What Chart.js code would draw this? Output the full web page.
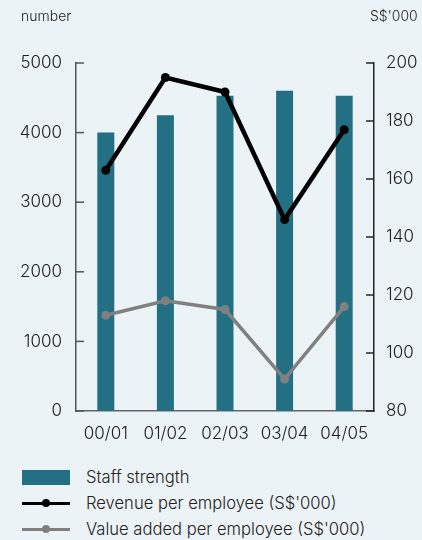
<!DOCTYPE html>
<html>
<head>
<meta charset="utf-8">
<script src="https://cdn.jsdelivr.net/npm/chart.js@4"></script>
<style>
  html, body { margin: 0; padding: 0; background: #ecf3f6; }
  #wrap { position: relative; width: 422px; height: 540px; background: #ecf3f6; font-family: Inter, sans-serif; font-weight: 300; color: #222; }
  #chart { position: absolute; left: 0; top: 0; }
  .ttl { position: absolute; top: 7px; font-size: 14px; }
  #legend { position: absolute; left: 22px; top: 464px; }
  .row { display: flex; align-items: center; height: 26px; font-size: 16.6px; }
  .sw { width: 48px; height: 15px; margin-right: 16px; position: relative; flex: none; }
</style>
</head>
<body>
<div id="wrap">
  <canvas id="chart" width="422" height="450"></canvas>
  <div class="ttl" style="left:21px">number</div>
  <div class="ttl" style="left:370px">S$'000</div>
  <div id="legend"></div>
</div>
<script>
const years = ['00/01', '01/02', '02/03', '03/04', '04/05'];
const staff = [4000, 4250, 4530, 4600, 4530];
const revenue = [163, 195, 190, 146, 177];
const valueAdded = [113, 118, 115, 91, 116];
const leftTicks = [0, 1000, 2000, 3000, 4000, 5000];
const rightTicks = [80, 100, 120, 140, 160, 180, 200];

const barColor = '#236f84';
const axisFont = { family: 'Inter', size: 17, weight: 300 };

// short inward tick marks on both value axes
const innerTicks = {
  id: 'innerTicks',
  afterDraw(chart) {
    const ctx = chart.ctx;
    const l = chart.scales.y, r = chart.scales.y1;
    ctx.save();
    ctx.lineWidth = 1.5;
    ctx.strokeStyle = '#555';
    leftTicks.forEach(v => {
      const y = l.getPixelForValue(v);
      ctx.beginPath(); ctx.moveTo(l.right, y); ctx.lineTo(l.right + 8, y); ctx.stroke();
    });
    ctx.strokeStyle = '#222';
    rightTicks.forEach(v => {
      const y = r.getPixelForValue(v);
      ctx.beginPath(); ctx.moveTo(r.left, y); ctx.lineTo(r.left - 8, y); ctx.stroke();
    });
    ctx.restore();
  }
};

const ctx = document.getElementById('chart').getContext('2d');
new Chart(ctx, {
  type: 'bar',
  data: {
    labels: years,
    datasets: [
      {
        type: 'line', label: 'Revenue per employee (S$\'000)', data: revenue, yAxisID: 'y1',
        borderColor: '#000', backgroundColor: '#000', borderWidth: 4.5,
        pointRadius: 4.5, pointBackgroundColor: '#000', pointBorderWidth: 0, order: 1
      },
      {
        type: 'line', label: 'Value added per employee (S$\'000)', data: valueAdded, yAxisID: 'y1',
        borderColor: '#808080', backgroundColor: '#808080', borderWidth: 3.5,
        pointRadius: 4.5, pointBackgroundColor: '#808080', pointBorderWidth: 0, order: 2
      },
      {
        label: 'Staff strength', data: staff, yAxisID: 'y',
        backgroundColor: barColor, barPercentage: 0.285, categoryPercentage: 1, order: 3
      }
    ]
  },
  options: {
    responsive: false,
    animation: false,
    layout: { padding: { top: 63, left: 0, right: 0, bottom: 0 } },
    plugins: { legend: { display: false }, tooltip: { enabled: false } },
    scales: {
      x: {
        grid: { display: false, drawTicks: false },
        border: { display: true, color: '#666', width: 1.5 },
        ticks: { color: '#222', font: axisFont, padding: 13, maxRotation: 0 },
        afterFit(s) { s.height = 39; }
      },
      y: {
        position: 'left', min: 0, max: 5000,
        afterBuildTicks(s) { s.ticks = leftTicks.map(v => ({ value: v })); },
        grid: { display: false, drawTicks: false },
        border: { display: true, color: '#555', width: 1.5 },
        ticks: { color: '#222', font: axisFont, padding: 14, callback: v => String(v) },
        afterFit(s) { s.width = 76; }
      },
      y1: {
        position: 'right', min: 80, max: 200,
        afterBuildTicks(s) { s.ticks = rightTicks.map(v => ({ value: v })); },
        grid: { display: false, drawTicks: false },
        border: { display: true, color: '#222', width: 1.5 },
        ticks: { color: '#222', font: axisFont, padding: 12, callback: v => String(v) },
        afterFit(s) { s.width = 48; }
      }
    }
  },
  plugins: [innerTicks]
});

// legend
const legendItems = [
  { text: 'Staff strength', kind: 'bar', color: barColor },
  { text: 'Revenue per employee (S$\'000)', kind: 'line', color: '#000', w: 3 },
  { text: 'Value added per employee (S$\'000)', kind: 'line', color: '#808080', w: 3 }
];
const leg = document.getElementById('legend');
legendItems.forEach(it => {
  const row = document.createElement('div');
  row.className = 'row';
  const sw = document.createElement('div');
  sw.className = 'sw';
  if (it.kind === 'bar') {
    sw.style.background = it.color;
  } else {
    sw.innerHTML = '<div style="position:absolute;left:0;right:0;top:' + (7.5 - it.w / 2) + 'px;height:' + it.w + 'px;background:' + it.color + '"></div>' +
      '<div style="position:absolute;left:20px;top:3.5px;width:8px;height:8px;border-radius:50%;background:' + it.color + '"></div>';
  }
  const t = document.createElement('span');
  t.textContent = it.text;
  row.appendChild(sw);
  row.appendChild(t);
  leg.appendChild(row);
});
</script>
</body>
</html>
